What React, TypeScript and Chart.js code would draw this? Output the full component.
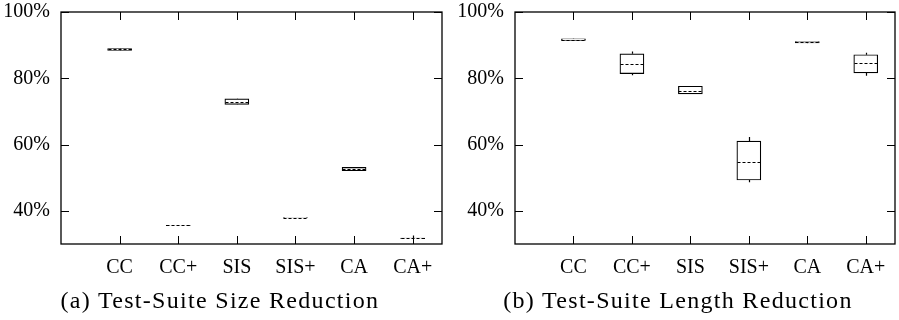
import React, { useEffect, useRef } from "react";
import { Chart, registerables } from "chart.js";

Chart.register(...registerables);

const categories = ["CC", "CC+", "SIS", "SIS+", "CA", "CA+"];
const yTickValues = [40, 60, 80, 100];

// (a) Test-Suite Size Reduction
const sizeMin = [88.3, 35.5, 72.0, 37.8, 52.0, 31.5];
const sizeQ1 = [88.4, 35.55, 72.1, 37.85, 52.1, 31.6];
const sizeMedian = [88.7, 35.6, 72.9, 37.9, 52.6, 31.7];
const sizeQ3 = [89.0, 35.65, 73.8, 38.0, 53.1, 31.75];
const sizeMax = [89.1, 35.7, 73.9, 38.0, 53.2, 32.6];

// (b) Test-Suite Length Reduction
const lengthMin = [91.3, 80.9, 75.3, 48.6, 90.6, 80.8];
const lengthQ1 = [91.4, 81.4, 75.3, 49.3, 90.7, 81.6];
const lengthMedian = [91.6, 84.3, 76.3, 54.8, 90.8, 84.6];
const lengthQ3 = [91.9, 87.4, 77.6, 61.05, 91.1, 87.1];
const lengthMax = [92.0, 88.1, 77.6, 62.3, 91.1, 87.7];

const FONT = "'Liberation Serif', 'DejaVu Serif', serif";

type BoxData = { min: number[]; q1: number[]; med: number[]; q3: number[]; max: number[] };

function makeChart(canvas: HTMLCanvasElement, d: BoxData, yWidth: number, padRight: number) {
  const boxPlugin = {
    id: "boxExtras",
    afterDatasetsDraw(chart: any) {
      const ctx = chart.ctx;
      const x = chart.scales.x;
      const y = chart.scales.y;
      const half = 12;
      ctx.save();
      ctx.strokeStyle = "#000";
      ctx.lineWidth = 1.2;
      categories.forEach((_, i) => {
        const px = Math.round(x.getPixelForValue(i + 1)) + 0.5;
        ctx.beginPath();
        ctx.moveTo(px, y.getPixelForValue(d.q3[i]));
        ctx.lineTo(px, y.getPixelForValue(d.max[i]));
        ctx.moveTo(px, y.getPixelForValue(d.q1[i]));
        ctx.lineTo(px, y.getPixelForValue(d.min[i]));
        ctx.stroke();
        ctx.setLineDash([3, 2]);
        ctx.beginPath();
        const my = Math.round(y.getPixelForValue(d.med[i])) + 0.5;
        ctx.moveTo(px - half, my);
        ctx.lineTo(px + half, my);
        ctx.stroke();
        ctx.setLineDash([]);
      });
      ctx.restore();
    },
    afterDraw(chart: any) {
      const ctx = chart.ctx;
      const a = chart.chartArea;
      const x = chart.scales.x;
      const y = chart.scales.y;
      const L = 8;
      ctx.save();
      ctx.strokeStyle = "#000";
      ctx.lineWidth = 1.3;
      ctx.strokeRect(a.left, a.top, a.right - a.left, a.bottom - a.top);
      ctx.lineWidth = 1;
      ctx.beginPath();
      for (let i = 0; i < categories.length; i++) {
        const px = Math.round(x.getPixelForValue(i + 1)) + 0.5;
        ctx.moveTo(px, a.bottom);
        ctx.lineTo(px, a.bottom - L);
        ctx.moveTo(px, a.top);
        ctx.lineTo(px, a.top + L);
      }
      for (const v of yTickValues) {
        const py = Math.round(y.getPixelForValue(v)) + 0.5;
        ctx.moveTo(a.left, py);
        ctx.lineTo(a.left + L, py);
        ctx.moveTo(a.right, py);
        ctx.lineTo(a.right - L, py);
      }
      ctx.stroke();
      ctx.restore();
    },
  };

  return new Chart(canvas, {
    type: "bar",
    data: {
      datasets: [
        {
          data: categories.map((_, i) => ({ x: i + 1, y: [d.q1[i], d.q3[i]] })) as any,
          backgroundColor: "#fff",
          borderColor: "#000",
          borderWidth: 1.2,
          borderSkipped: false,
          barThickness: 24,
        } as any,
      ],
    },
    options: {
      animation: false,
      responsive: false,
      maintainAspectRatio: false,
      layout: { padding: { top: 12, right: padRight, bottom: 40, left: 0 } },
      plugins: { legend: { display: false }, tooltip: { enabled: false }, title: { display: false } },
      scales: {
        x: {
          type: "linear",
          offset: false,
          min: 0,
          max: 6.5,
          grid: { display: false, drawTicks: false, offset: false },
          border: { display: false },
          afterBuildTicks: (s: any) => {
            s.ticks = categories.map((_, i) => ({ value: i + 1 }));
          },
          afterFit: (s: any) => {
            s.height = 36;
            s.paddingLeft = 0;
            s.paddingRight = 0;
          },
          ticks: {
            autoSkip: false,
            maxRotation: 0,
            padding: 12,
            color: "#000",
            font: { family: FONT, size: 20 },
            callback: (v: any) => categories[Math.round(v) - 1] ?? "",
          },
        },
        y: {
          min: 30,
          max: 100,
          grid: { display: false, drawTicks: false },
          border: { display: false },
          afterBuildTicks: (s: any) => {
            s.ticks = yTickValues.map((v) => ({ value: v }));
          },
          afterFit: (s: any) => {
            s.width = yWidth;
            s.paddingTop = 0;
            s.paddingBottom = 0;
          },
          ticks: {
            padding: 11,
            color: "#000",
            font: { family: FONT, size: 20 },
            callback: (v: any) => v + "%",
          },
        },
      },
    },
    plugins: [boxPlugin],
  } as any);
}

export default function App() {
  const aRef = useRef<HTMLCanvasElement>(null);
  const bRef = useRef<HTMLCanvasElement>(null);

  useEffect(() => {
    const c1 = makeChart(aRef.current!, { min: sizeMin, q1: sizeQ1, med: sizeMedian, q3: sizeQ3, max: sizeMax }, 61, 8);
    const c2 = makeChart(
      bRef.current!,
      { min: lengthMin, q1: lengthQ1, med: lengthMedian, q3: lengthQ3, max: lengthMax },
      65,
      4
    );
    return () => {
      c1.destroy();
      c2.destroy();
    };
  }, []);

  const caption: React.CSSProperties = {
    position: "absolute",
    top: 288,
    width: 440,
    textAlign: "center",
    fontFamily: FONT,
    fontSize: 24,
    lineHeight: "24px",
    letterSpacing: "1.3px",
    color: "#000",
    whiteSpace: "nowrap",
  };

  return (
    <div style={{ position: "fixed", left: 0, top: 0, width: 899, height: 320, background: "#fff" }}>
      <canvas ref={aRef} width={450} height={320} style={{ position: "absolute", left: 0, top: 0 }} />
      <canvas ref={bRef} width={449} height={320} style={{ position: "absolute", left: 450, top: 0 }} />
      <div style={{ ...caption, left: 220 - 220 }}>(a) Test-Suite Size Reduction</div>
      <div style={{ ...caption, left: 678 - 220 }}>(b) Test-Suite Length Reduction</div>
    </div>
  );
}
